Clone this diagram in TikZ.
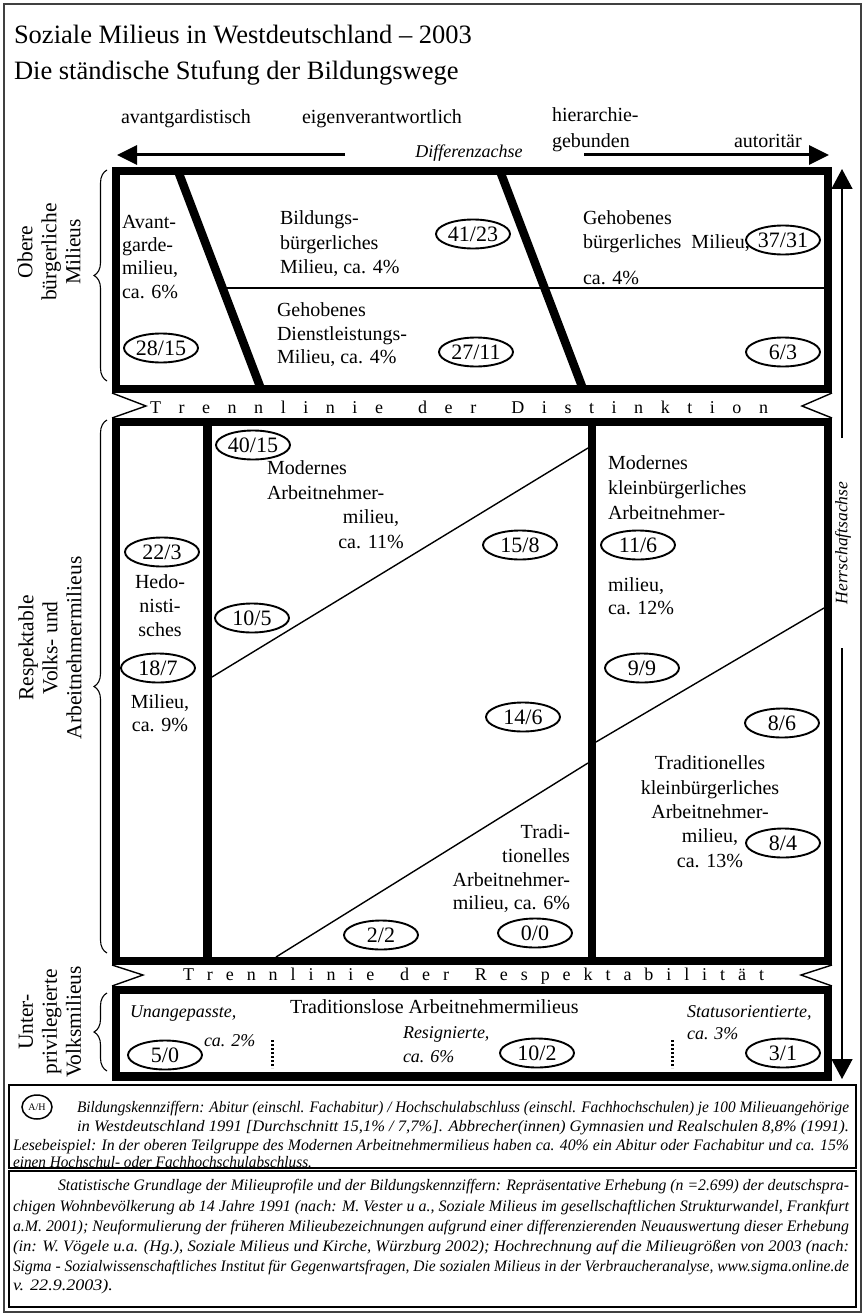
\documentclass[tikz,border=0pt]{standalone}
\usepackage{fontspec}
\setmainfont{Liberation Serif}
\usetikzlibrary{shapes.geometric,arrows.meta,decorations.pathreplacing}
\newcommand{\fitto}[2]{\resizebox{#1}{\height}{#2}}
\tikzset{
 body/.style={font=\fontsize{20}{24.5}\selectfont},
 ibody/.style={font=\fontsize{18}{23}\selectfont\itshape},
 ratio/.style={draw, ellipse, line width=1.9pt, fill=white, minimum width=74pt, minimum height=29pt, inner sep=0pt, font=\fontsize{22}{22}\selectfont},
 heavy/.style={line width=8.5pt, line join=miter},
 hair/.style={line width=1.4pt},
 sidelabel/.style={rotate=90, align=center, font=\fontsize{21.5}{24}\selectfont},
 legendtxt/.style={anchor=base west, font=\fontsize{16}{19}\selectfont\itshape},
 band/.style={anchor=base west, font=\fontsize{18}{18}\selectfont},
 notch/.style={line width=1.4pt, line join=miter},
 bracestyle/.style={decorate, decoration={brace, amplitude=13pt}, line width=1.1pt},
 axisarrow/.style={line width=3pt, -{Triangle[length=20pt, width=19pt]}},
 vaxis/.style={line width=1.4pt, -{Triangle[length=20pt, width=21pt]}},
}
\begin{document}
\begin{tikzpicture}[x=1pt,y=-1pt, every node/.style={inner sep=0pt, outer sep=0pt}]
\useasboundingbox (0,0) rectangle (865,1316);
\fill[white] (0,0) rectangle (865,1316);
% outer frame
\draw[line width=2.5pt, black!75] (4,4) rectangle (861,1312);

% titles
\node[anchor=base west, font=\fontsize{26.5}{26.5}\selectfont] (title1) at (14,44) {Soziale Milieus in Westdeutschland – 2003};
\node[anchor=base west, font=\fontsize{26.5}{26.5}\selectfont] (title2) at (14,80) {Die ständische Stufung der Bildungswege};

% axis labels
\node[body, anchor=base west] (av) at (121,124) {avantgardistisch};
\node[body, anchor=base west] (eig) at (302,124) {eigenverantwortlich};
\node[body, anchor=base west] (hier) at (552,122) {hierarchie-};
\node[body, anchor=base west] (geb) at (552,148) {gebunden};
\node[body, anchor=base west] (aut) at (734,148) {autoritär};
\node[anchor=base, font=\fontsize{18}{18}\selectfont\itshape] (diff) at (469,158) {Differenzachse};
\coordinate (dl0) at (345,155); \coordinate (dl1) at (117,155);
\coordinate (dr0) at (584,155); \coordinate (dr1) at (829,155);
\draw[axisarrow] (dl0) -- (dl1);
\draw[axisarrow] (dr0) -- (dr1);

% Herrschaftsachse
\coordinate (hu0) at (842,438); \coordinate (hu1) at (842,169);
\coordinate (hd0) at (842,648); \coordinate (hd1) at (842,1079);
\draw[vaxis] (hu0) -- (hu1);
\draw[vaxis] (hd0) -- (hd1);
\node[rotate=90, font=\fontsize{17.5}{17.5}\selectfont\itshape] (herr) at (843,543) {Herrschaftsachse};

% braces and side labels
\draw[bracestyle] (107,381) -- (107,170);
\draw[bracestyle] (107,953) -- (107,420);
\draw[bracestyle] (107,1071) -- (107,993);
\node[sidelabel] (obere) at (49,252) {Obere\\bürgerliche\\Milieus};
\node[sidelabel] (resp) at (50,648) {Respektable\\Volks- und\\Arbeitnehmermilieus};
\node[sidelabel] (unter) at (50,1022) {Unter-\\privilegierte\\Volksmilieus};

% top box
\draw[hair] (222,288) -- (828,288);
\draw[heavy] (178,171) -- (261,389);
\draw[heavy] (500,171) -- (583,389);
\draw[heavy] (116,171) rectangle (828,389);

% band Distinktion
\draw[notch] (112,393) -- (146,406) -- (112,418);
\draw[notch] (832,393) -- (802,406) -- (832,418);
\node[band] (tdist) at (150,413) {\makebox[618pt][s]{T\hfill r\hfill e\hfill n\hfill n\hfill l\hfill i\hfill n\hfill i\hfill e\hfill\hfill d\hfill e\hfill r\hfill\hfill D\hfill i\hfill s\hfill t\hfill i\hfill n\hfill k\hfill t\hfill i\hfill o\hfill n}};

% middle box
\draw[hair] (212,677) -- (588,448);
\draw[hair] (596,742) -- (824,608);
\draw[hair] (276,957) -- (588,763);
\draw[line width=9pt] (207.5,422) -- (207.5,961);
\draw[line width=8.5pt] (592,422) -- (592,961);
\draw[heavy] (116,422) rectangle (828,961);

% band Respektabilitaet
\draw[notch] (112,965) -- (143,975) -- (112,986);
\draw[notch] (832,965) -- (801,975) -- (832,986);
\node[band] (tresp) at (183,980) {\makebox[581pt][s]{T\hfill r\hfill e\hfill n\hfill n\hfill l\hfill i\hfill n\hfill i\hfill e\hfill\hfill d\hfill e\hfill r\hfill\hfill R\hfill e\hfill s\hfill p\hfill e\hfill k\hfill t\hfill a\hfill b\hfill i\hfill l\hfill i\hfill t\hfill ä\hfill t}};

% bottom box
\draw[heavy] (116,990) rectangle (828,1076);
\draw[line width=3pt] (112,1079) -- (832,1079);
\draw[line width=3pt, dash pattern=on 2pt off 2pt] (272,1040) -- (272,1068);
\draw[line width=3pt, dash pattern=on 2pt off 2pt] (672,1040) -- (672,1068);

% texts top box
\node[body, align=left, anchor=north west, font=\fontsize{20}{23.3}\selectfont] (avant) at (122,215) {Avant-\\garde-\\milieu,\\ca. 6\%};
\node[body, align=left, anchor=north west] (bild) at (280,211) {Bildungs-\\bürgerliches\\Milieu, ca. 4\%};
\node[body, align=left, anchor=north west, font=\fontsize{20}{23.5}\selectfont] (gehdl) at (277,303) {Gehobenes\\Dienstleistungs-\\Milieu, ca. 4\%};
\node[body, align=left, anchor=north west, font=\fontsize{20}{24}\selectfont] (gehb) at (583,211) {Gehobenes\\bürgerliches\ \ Milieu,};
\node[body, anchor=north west] (gehb2) at (583,271) {ca. 4\%};

% texts middle box
\node[body, align=left, anchor=north west, font=\fontsize{20}{25}\selectfont] (modA) at (267,461) {Modernes\\Arbeitnehmer-};
\node[body, align=center, anchor=north, font=\fontsize{20}{25}\selectfont] (modA2) at (371,510) {milieu,\\ca. 11\%};
\node[body, align=center, anchor=north, font=\fontsize{20}{24}\selectfont] (hedo) at (160,575) {Hedo-\\nisti-\\sches};
\node[body, align=center, anchor=north, font=\fontsize{20}{23}\selectfont] (hedo2) at (160,695) {Milieu,\\ca. 9\%};
\node[body, align=left, anchor=north west, font=\fontsize{20}{25}\selectfont] (modK) at (608,456) {Modernes\\kleinbürgerliches\\Arbeitnehmer-};
\node[body, align=left, anchor=north west, font=\fontsize{20}{23}\selectfont] (modK2) at (608,578) {milieu,\\ca. 12\%};
\node[body, align=center, anchor=north, font=\fontsize{20}{24.3}\selectfont] (tradK) at (710,756) {Traditionelles\\kleinbürgerliches\\Arbeitnehmer-\\milieu,\\ca. 13\%};
\node[body, align=right, anchor=north east, font=\fontsize{20}{23.7}\selectfont] (tradA) at (570,825) {Tradi-\\tionelles\\Arbeitnehmer-\\milieu, ca. 6\%};

% texts bottom box
\node[body, anchor=north west] (trlos) at (290,1000) {Traditionslose Arbeitnehmermilieus};
\node[ibody, anchor=north west] (unang) at (130,1006) {Unangepasste,};
\node[ibody, anchor=north west] (unang2) at (204,1035) {ca. 2\%};
\node[ibody, align=left, anchor=north west, font=\fontsize{18}{24}\selectfont\itshape] (resig) at (403,1027) {Resignierte,\\ca. 6\%};
\node[ibody, align=left, anchor=north west, font=\fontsize{18}{22}\selectfont\itshape] (status) at (687,1006) {Statusorientierte,\\ca. 3\%};

% ratio ellipses
\node[ratio] (r2815) at (161,348) {28/15};
\node[ratio] (r4123) at (473,234) {41/23};
\node[ratio] (r2711) at (476,352) {27/11};
\node[ratio] (r3731) at (783,240) {37/31};
\node[ratio] (r63) at (783,352) {6/3};
\node[ratio] (r4015) at (253,445) {40/15};
\node[ratio] (r223) at (162,552) {22/3};
\node[ratio] (r105) at (252,618) {10/5};
\node[ratio] (r187) at (158,668) {18/7};
\node[ratio] (r158) at (520,545) {15/8};
\node[ratio] (r116) at (638,545) {11/6};
\node[ratio] (r146) at (523,717) {14/6};
\node[ratio] (r99) at (642,668) {9/9};
\node[ratio] (r86) at (782,723) {8/6};
\node[ratio] (r84) at (783,843) {8/4};
\node[ratio] (r00) at (535,933) {0/0};
\node[ratio] (r22) at (381,935) {2/2};
\node[ratio] (r50) at (165,1055) {5/0};
\node[ratio] (r102) at (537,1053) {10/2};
\node[ratio] (r31) at (783,1053) {3/1};

% legend boxes
\draw[line width=1.6pt] (9,1085) rectangle (856,1168);
\draw[line width=1.6pt] (9,1171) rectangle (856,1307);
\node[draw, ellipse, line width=1.5pt, minimum width=30pt, minimum height=24pt, font=\fontsize{10}{10}\selectfont] (ah) at (37,1107) {A/H};
\node[legendtxt] (l1) at (77,1112) {\fitto{772pt}{Bildungskennziffern: Abitur (einschl. Fachabitur) / Hochschulabschluss (einschl. Fachhochschulen) je 100 Milieuangehörige}};
\node[legendtxt] (l2) at (77,1131) {\fitto{772pt}{in Westdeutschland 1991 [Durchschnitt 15,1\% / 7,7\%]. Abbrecher(innen) Gymnasien und Realschulen 8,8\% (1991).}};
\node[legendtxt] (l3) at (13,1150) {\fitto{836pt}{Lesebeispiel: In der oberen Teilgruppe des Modernen Arbeitnehmermilieus haben ca. 40\% ein Abitur oder Fachabitur und ca. 15\%}};
\node[legendtxt] (l4) at (13,1167) {\fitto{299pt}{einen Hochschul- oder Fachhochschulabschluss.}};
\node[legendtxt] (s1) at (58,1190) {\fitto{791pt}{Statistische Grundlage der Milieuprofile und der Bildungskennziffern: Repräsentative Erhebung (n =2.699) der deutschspra-}};
\node[legendtxt] (s2) at (13,1211) {\fitto{836pt}{chigen Wohnbevölkerung ab 14 Jahre 1991 (nach: M. Vester u a., Soziale Milieus im gesellschaftlichen Strukturwandel, Frankfurt}};
\node[legendtxt] (s3) at (13,1231) {\fitto{836pt}{a.M. 2001); Neuformulierung der früheren Milieubezeichnungen aufgrund einer differenzierenden Neuauswertung dieser Erhebung}};
\node[legendtxt] (s4) at (13,1251) {\fitto{836pt}{(in: W. Vögele u.a. (Hg.), Soziale Milieus und Kirche, Würzburg 2002); Hochrechnung auf die Milieugrößen von 2003 (nach:}};
\node[legendtxt] (s5) at (13,1271) {\fitto{836pt}{Sigma - Sozialwissenschaftliches Institut für Gegenwartsfragen, Die sozialen Milieus in der Verbraucheranalyse, www.sigma.online.de}};
\node[legendtxt] (s6) at (13,1290) {\fitto{100pt}{v. 22.9.2003).}};
\end{tikzpicture}
\end{document}
